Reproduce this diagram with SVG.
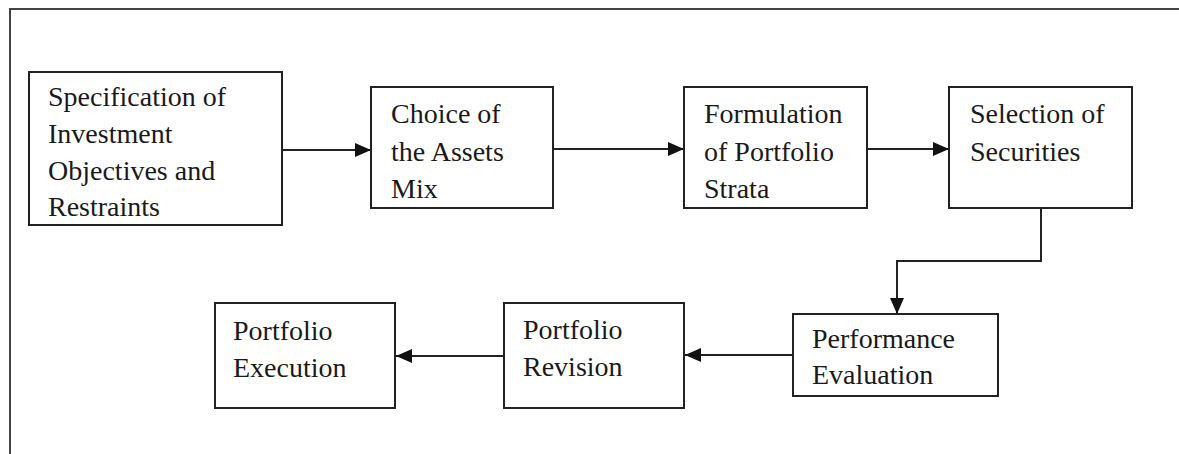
<svg xmlns="http://www.w3.org/2000/svg" width="1179" height="454" viewBox="0 0 1179 454">
  <style>
    .box { fill: #ffffff; stroke: #222222; stroke-width: 2; }
    .lbl { font-family: "Liberation Serif", "Times New Roman", serif; font-size: 28px; fill: #1a1a1a; }
    .conn { fill: none; stroke: #222222; stroke-width: 2; }
    .frame { fill: none; stroke: #444444; stroke-width: 2; }
  </style>
  <defs>
    <marker id="arrow" markerUnits="userSpaceOnUse" markerWidth="16" markerHeight="14" refX="16" refY="7" orient="auto">
      <path d="M0,0 L16,7 L0,14 Z" fill="#111111"/>
    </marker>
  </defs>
  <rect width="1179" height="454" fill="#ffffff"/>
  <rect class="frame" x="10" y="9" width="1200" height="500"/>

  <g id="connectors">
    <path class="conn" d="M282,150 H371" marker-end="url(#arrow)"/>
    <path class="conn" d="M553,149 H684" marker-end="url(#arrow)"/>
    <path class="conn" d="M867,149 H949" marker-end="url(#arrow)"/>
    <path class="conn" d="M1041,209 V261 H897 V314" stroke="#555555" marker-end="url(#arrow)"/>
    <path class="conn" d="M793,355 H685" marker-end="url(#arrow)"/>
    <path class="conn" d="M504,356 H396" marker-end="url(#arrow)"/>
  </g>

  <g id="node-specification">
    <rect class="box" x="29" y="72" width="253" height="153"/>
    <text class="lbl" x="48" y="106">Specification of</text>
    <text class="lbl" x="48" y="143">Investment</text>
    <text class="lbl" x="48" y="180">Objectives and</text>
    <text class="lbl" x="48" y="216">Restraints</text>
  </g>
  <g id="node-choice">
    <rect class="box" x="371" y="87" width="182" height="121"/>
    <text class="lbl" x="391" y="123">Choice of</text>
    <text class="lbl" x="391" y="161">the Assets</text>
    <text class="lbl" x="391" y="198">Mix</text>
  </g>
  <g id="node-formulation">
    <rect class="box" x="684" y="87" width="183" height="121"/>
    <text class="lbl" x="704" y="123">Formulation</text>
    <text class="lbl" x="704" y="161">of Portfolio</text>
    <text class="lbl" x="704" y="198">Strata</text>
  </g>
  <g id="node-selection">
    <rect class="box" x="949" y="87" width="183" height="121"/>
    <text class="lbl" x="970" y="123">Selection of</text>
    <text class="lbl" x="970" y="161">Securities</text>
  </g>
  <g id="node-performance">
    <rect class="box" x="793" y="314" width="205" height="82"/>
    <text class="lbl" x="812" y="348">Performance</text>
    <text class="lbl" x="812" y="384">Evaluation</text>
  </g>
  <g id="node-revision">
    <rect class="box" x="504" y="303" width="180" height="105"/>
    <text class="lbl" x="523" y="339">Portfolio</text>
    <text class="lbl" x="523" y="376">Revision</text>
  </g>
  <g id="node-execution">
    <rect class="box" x="215" y="303" width="180" height="105"/>
    <text class="lbl" x="233" y="340">Portfolio</text>
    <text class="lbl" x="233" y="377">Execution</text>
  </g>
</svg>
